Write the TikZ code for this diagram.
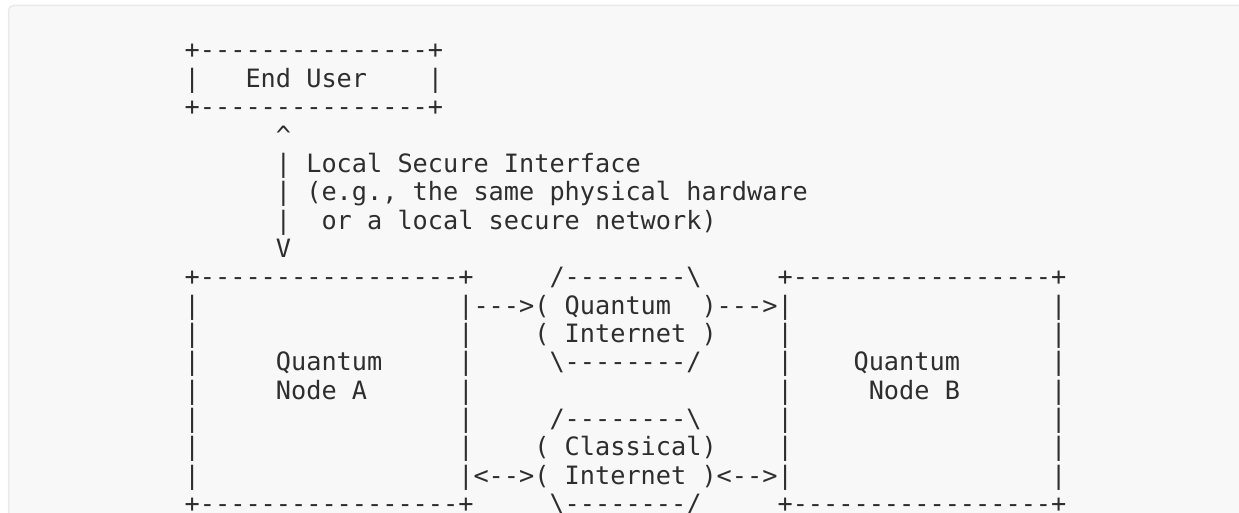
\documentclass[tikz,border=0pt]{standalone}
\usepackage{fontspec}
\setmonofont{DejaVu Sans Mono}
\usepackage{tikz}
\usepackage{xcolor}

\definecolor{codeback}{HTML}{F8F8F8}
\definecolor{codeframe}{HTML}{E9E9E9}
\definecolor{codeink}{HTML}{2E2E2E}

% blank run of n monospace cells
\newcommand\gap[1]{\hspace*{#1\fontcharwd\font`0}}

\tikzset{
  ascii/.style={anchor=base west, inner sep=0pt, outer sep=0pt, text=codeink,
    font=\ttfamily\fontsize{25.25pt}{28.35pt}\selectfont}
}

\begin{document}
\begin{tikzpicture}
    \useasboundingbox (0,0) rectangle (1239pt,-513pt);
    \clip (0,0) rectangle (1239pt,-513pt);
    \draw[codeframe, fill=codeback, line width=1.5pt, rounded corners=5pt] (8.5pt,-5.5pt) rectangle (1280pt,-560pt);

  \begin{scope}[shift={(184.7pt,-59pt)}, x=15.2pt, y=-28.35pt]
    % end user
    \node[ascii] (userTop) at (0,0) {+---------------+};
    \node[ascii] (userLabel) at (0,1) {|\gap{3}End User\gap{4}|};
    \node[ascii] (userBottom) at (0,2) {+---------------+};

    % local secure interface
    \node[ascii] (upTip) at (6,3) {\textasciicircum};
    \node[ascii] (linkLabel) at (6,4) {| Local Secure Interface};
    \node[ascii] (linkNote) at (6,5) {| (e.g., the same physical hardware};
    \node[ascii] (linkNoteCont) at (6,6) {|\gap{2}or a local secure network)};
    \node[ascii] (downTip) at (6,7) {V};

    % quantum nodes and the two internets
    \node[ascii] (nodesTop) at (0,8) {+-----------------+\gap{5}/--------\textbackslash\gap{5}+-----------------+};
    \node[ascii] (quantumLink) at (0,9) {|\gap{17}|--->(\gap{1}Quantum\gap{2})--->|\gap{17}|};
    \node[ascii] (quantumNet) at (0,10) {|\gap{17}|\gap{4}(\gap{1}Internet\gap{1})\gap{4}|\gap{17}|};
    \node[ascii] (nodeNames) at (0,11) {|\gap{5}Quantum\gap{5}|\gap{5}\textbackslash--------/\gap{5}|\gap{4}Quantum\gap{6}|};
    \node[ascii] (nodeLetters) at (0,12) {|\gap{5}Node A\gap{6}|\gap{20}|\gap{5}Node B\gap{6}|};
    \node[ascii] (classicTop) at (0,13) {|\gap{17}|\gap{5}/--------\textbackslash\gap{5}|\gap{17}|};
    \node[ascii] (classicNet) at (0,14) {|\gap{17}|\gap{4}(\gap{1}Classical)\gap{4}|\gap{17}|};
    \node[ascii] (classicLink) at (0,15) {|\gap{17}|<-->(\gap{1}Internet\gap{1})<-->|\gap{17}|};
    \node[ascii] (nodesBottom) at (0,16) {+-----------------+\gap{5}\textbackslash--------/\gap{5}+-----------------+};
  \end{scope}
\end{tikzpicture}
\end{document}
